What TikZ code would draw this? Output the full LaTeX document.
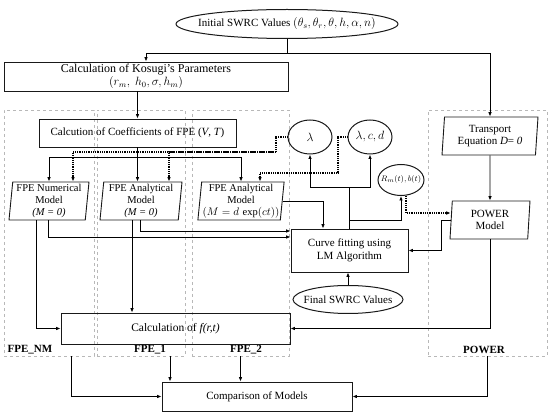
\documentclass[tikz,border=0pt]{standalone}
\usepackage{fontspec}
\setmainfont{Liberation Serif}
\usepackage{amsmath}
\usetikzlibrary{arrows.meta,shapes.geometric}
\tikzset{
  swrc-box/.style={draw=black!90, line width=0.9pt, align=center, inner sep=1pt,
    font=\fontsize{11}{12.5}\selectfont},
  swrc-model/.style={swrc-box, trapezium, trapezium left angle=84, trapezium right angle=96,
    trapezium stretches body, font=\fontsize{10.5}{12}\selectfont},
  swrc-oval/.style={draw=black!90, line width=1pt, ellipse, inner sep=0pt},
  swrc-text/.style={align=center, inner sep=0pt, font=\fontsize{11}{12.5}\selectfont},
  swrc-group/.style={draw=black!28, dashed, line width=0.7pt},
  swrc-tag/.style={font=\fontsize{11}{12.5}\selectfont\bfseries},
  swrc-link/.style={-{Latex[length=4.5pt,width=3.6pt]}, line width=0.8pt},
  swrc-feed/.style={swrc-link, densely dotted, line width=1.05pt}
}

\begin{document}
\begin{tikzpicture}[x=1pt, y=-1pt]
  \useasboundingbox (0,0) rectangle (550,414);

  % Model groups (dashed frames)
  \node[swrc-group, minimum width=90pt, minimum height=246pt] (nm-grp) at (49,233) {};
  \node[swrc-group, minimum width=88pt, minimum height=246pt] (one-grp) at (141,233) {};
  \node[swrc-group, minimum width=97pt, minimum height=246pt] (two-grp) at (240.5,233) {};
  \node[swrc-group, minimum width=119pt, minimum height=246pt] (pow-grp) at (487.5,233) {};
  \node[swrc-tag] (nm-tag) at (30,350) {FPE\_NM};
  \node[swrc-tag] (one-tag) at (150,350) {FPE\_1};
  \node[swrc-tag] (two-tag) at (246,350) {FPE\_2};
  \node[swrc-tag] (pow-tag) at (484,350) {POWER};

  % Initial values and parameters
  \node[swrc-oval, minimum width=222pt, minimum height=29pt] (init) at (287,24) {};
  \node[swrc-text] (init-text) at (init) {Initial SWRC Values {\large$(\theta_s,\theta_r,\theta,h,\alpha,n)$}};
  \node[swrc-box, minimum width=284pt, minimum height=29pt, font=\fontsize{12}{13}\selectfont] (kosugi) at (146,76.5)
    {Calculation of Kosugi's Parameters\\$(r_m,\ h_0,\sigma,h_m)$};
  \node[swrc-box, minimum width=197pt, minimum height=28pt] (coef) at (137.5,133)
    {Calcution of Coefficients of FPE (\textit{V}, \textit{T})};

  % Models
  \node[swrc-model, minimum width=80pt, minimum height=38pt] (num) at (49,201)
    {FPE Numerical\\Model\\\textit{(M = 0)}};
  \node[swrc-model, minimum width=82pt, minimum height=38pt] (ana1) at (141,201)
    {FPE Analytical\\Model\\\textit{(M = 0)}};
  \node[swrc-model, minimum width=86pt, minimum height=38pt] (ana2) at (241,201)
    {FPE Analytical\\Model\\$(M = d\,\exp(ct))$};
  \node[swrc-model, minimum width=96pt, minimum height=38pt, font=\fontsize{11}{12.5}\selectfont] (transport) at (490,136)
    {Transport\\Equation \textit{D}= \textit{0}};
  \node[swrc-model, minimum width=80pt, minimum height=38pt, font=\fontsize{11}{12.5}\selectfont] (power) at (490,220)
    {POWER\\Model};

  % Fitted parameters
  \node[swrc-oval, minimum width=44pt, minimum height=34pt] (lambda) at (310,137) {};
  \node[swrc-text] (lambda-text) at (lambda) {\large$\lambda$};
  \node[swrc-oval, minimum width=44pt, minimum height=34pt] (lcd) at (370,137) {};
  \node[swrc-text] (lcd-text) at (lcd) {\large$\lambda,c,d$};
  \node[swrc-oval, minimum width=46pt, minimum height=31pt] (rmb) at (401,180) {};
  \node[swrc-text] (rmb-text) at (rmb) {\footnotesize$R_m(t),b(t)$};

  % Fitting and results
  \node[swrc-box, minimum width=117pt, minimum height=43pt] (curve) at (349.5,250.5)
    {Curve fitting using\\LM Algorithm};
  \node[swrc-oval, minimum width=110pt, minimum height=28pt] (final) at (348,299.5) {};
  \node[swrc-text] (final-text) at (final) {Final SWRC Values};
  \node[swrc-box, minimum width=229pt, minimum height=31pt, font=\fontsize{11.5}{13}\selectfont] (fcalc) at (175.5,328.5)
    {Calculation of \textit{f(r,t)}};
  \node[swrc-box, minimum width=190pt, minimum height=29pt] (comp) at (257,396.5)
    {Comparison of Models};

  % Bend points
  \coordinate (split) at (0,53);
  \coordinate (coef-bus) at (0,157);
  \coordinate (lam-bend) at (276,152);
  \coordinate (lcd-bend) at (338,173);
  \coordinate (fit-bus) at (0,187);
  \coordinate (fit-branch) at (0,220);

  % Top links
  \draw[swrc-link] (init.south) -- (init.south |- split) -| (kosugi.north);
  \draw[swrc-link] (init.south |- split) -| (transport.north);
  \draw[swrc-link] (kosugi.south -| coef.north) -- (coef.north);
  \draw[swrc-link] (coef.south) -- (coef.south |- ana1.north);
  \draw[swrc-link] (coef.south |- coef-bus) -| (num.north);
  \draw[swrc-link] (coef.south |- coef-bus) -| (ana2.north);

  % Parameters fed back (dotted)
  \draw[swrc-feed] (lambda.west) -| (lam-bend) -| ([xshift=24]num.north);
  \draw[swrc-feed] (lam-bend) -| ([xshift=28]ana1.north);
  \draw[swrc-feed] (lcd.west) -| (lcd-bend) -| ([xshift=19]ana2.north);
  \draw[swrc-feed] ([xshift=5]rmb.south) |- ([yshift=7]power.west);

  % Into curve fitting
  \draw[swrc-link] ([xshift=-1]num.south) |- ([yshift=13.5]curve.west);
  \draw[swrc-link] ([xshift=-1]ana1.south) |- ([yshift=19.5]curve.west);
  \draw[swrc-link] (ana2.east) -| ([xshift=-26.5]curve.north);
  \draw[swrc-link] (power.west) -- ++(-9,0) |- (curve.east);
  \draw[swrc-link] (final.north) -- (final.north |- curve.south);
  \draw[swrc-link] (transport.south) -- (power.north);

  % Out of curve fitting
  \draw[swrc-link] (curve.north) -- (curve.north |- fit-bus) -| (lambda.south);
  \draw[swrc-link] (curve.north |- fit-bus) -| (lcd.south);
  \draw[swrc-link] (curve.north |- fit-branch) -| (rmb.south);

  % Into f(r,t)
  \draw[swrc-link] ([xshift=-13]num.south) |- (fcalc.west);
  \draw[swrc-link] ([xshift=-9]ana1.south) coordinate (ana1-out) -- (ana1-out |- fcalc.north);
  \draw[swrc-link] (power.south) |- (fcalc.east);

  % Comparison
  \draw[swrc-link] ([xshift=22]nm-grp.south) |- (comp.west);
  \draw[swrc-link] ([xshift=29]one-grp.south) coordinate (one-out) -- (one-out |- comp.north);
  \draw[swrc-link] (two-grp.south) -- (two-grp.south |- comp.north);
  \draw[swrc-link] (pow-grp.south) |- (comp.east);
\end{tikzpicture}
\end{document}
